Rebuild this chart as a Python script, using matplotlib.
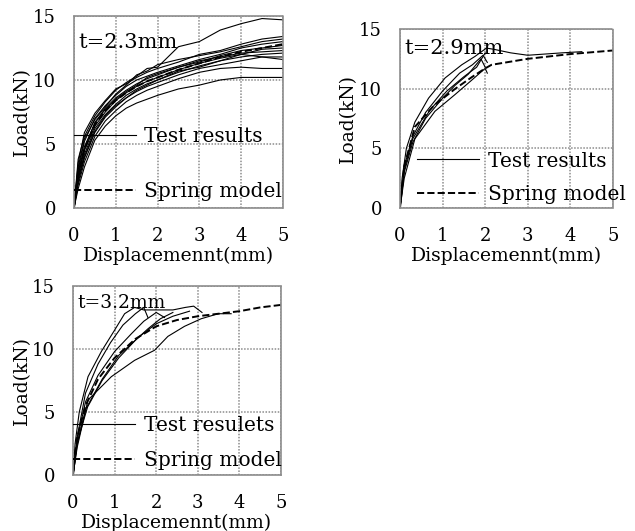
import matplotlib
matplotlib.use('Agg')
import matplotlib.pyplot as plt

plt.rcParams['font.family'] = ['DejaVu Serif']

# t = 2.3 mm: test curves share one displacement grid
x23 = [0, 0.1, 0.25, 0.5, 0.75, 1.0, 1.25, 1.5, 1.75, 2.0, 2.5, 3.0, 3.5, 4.0, 4.5, 5.0]
test23 = [
    [0, 3.8, 5.6, 7.2, 8.3, 9.2, 9.8, 10.3, 10.9, 11.0, 12.6, 13.0, 13.9, 14.4, 14.8, 14.7],
    [0, 3.5, 5.9, 7.4, 8.4, 9.3, 9.7, 10.2, 10.6, 10.9, 11.4, 12.0, 12.3, 12.8, 13.2, 13.4],
    [0, 3.0, 5.2, 7.0, 8.0, 8.8, 9.5, 10.0, 10.3, 10.6, 11.1, 11.6, 12.0, 12.5, 12.8, 13.0],
    [0, 2.8, 4.8, 6.6, 7.8, 8.6, 9.2, 9.7, 10.1, 10.4, 11.0, 11.4, 11.9, 12.3, 12.5, 12.7],
    [0, 2.5, 4.5, 6.4, 7.5, 8.4, 9.0, 9.5, 9.9, 10.2, 10.8, 11.3, 11.7, 12.0, 12.4, 12.5],
    [0, 2.2, 4.2, 6.2, 7.3, 8.1, 8.8, 9.3, 9.7, 10.0, 10.7, 11.0, 11.5, 11.8, 12.0, 12.1],
    [0, 2.0, 3.9, 5.9, 7.1, 7.9, 8.6, 9.1, 9.5, 9.8, 10.4, 10.9, 11.2, 11.5, 11.8, 11.6],
    [0, 1.8, 3.6, 5.6, 6.8, 7.6, 8.3, 8.8, 9.2, 9.5, 10.1, 10.6, 10.9, 11.0, 10.9, 10.9],
    [0, 1.5, 3.2, 5.3, 6.4, 7.2, 7.8, 8.2, 8.5, 8.8, 9.3, 9.6, 10.0, 10.2, 10.2, 10.2],
    [0, 3.2, 5.4, 6.9, 7.9, 8.9, 9.6, 10.4, 10.7, 11.2, 11.6, 11.9, 12.2, 12.6, 13.0, 13.2],
    [0, 2.6, 4.6, 6.7, 7.7, 8.5, 9.1, 9.6, 10.2, 10.5, 11.0, 11.5, 11.8, 12.1, 12.2, 12.3],
    [0, 2.3, 4.0, 6.0, 7.2, 8.0, 8.6, 9.2, 9.6, 10.0, 10.6, 11.1, 11.5, 12.0, 11.8, 11.8],
]
spring23 = [0, 2.6, 4.6, 6.5, 7.6, 8.4, 9.0, 9.5, 9.9, 10.2, 10.8, 11.3, 11.8, 12.2, 12.5, 12.8]

# t = 2.9 mm
test29_x = [
    [0, 0.05, 0.15, 0.35, 0.67, 1.06, 1.45, 1.76, 2.03, 2.2, 2.6, 3.0, 3.4, 3.8, 4.27],
    [0, 0.1, 0.3, 0.6, 1.0, 1.4, 1.7, 1.95, 2.05],
    [0, 0.1, 0.3, 0.6, 1.0, 1.3, 1.6, 1.9, 2.0],
    [0, 0.1, 0.35, 0.82, 1.29, 1.68, 2.0, 2.05],
    [0, 0.1, 0.3, 0.7, 1.1, 1.5, 1.8, 2.0],
]
test29_y = [
    [0, 2.5, 5.0, 7.2, 9.2, 10.9, 12.0, 12.7, 13.4, 13.3, 13.0, 12.8, 12.9, 13.0, 13.1],
    [0, 3.5, 6.0, 8.0, 9.8, 11.3, 12.0, 12.8, 12.2],
    [0, 3.0, 5.5, 7.5, 9.2, 10.3, 11.2, 12.5, 11.8],
    [0, 2.5, 5.8, 8.1, 9.5, 10.7, 11.7, 11.3],
    [0, 3.2, 5.8, 8.2, 9.8, 11.0, 11.8, 13.0],
]
spring29_x = [0, 0.1, 0.35, 0.8, 1.3, 1.7, 2.0, 2.15, 3.0, 4.0, 5.0]
spring29_y = [0, 3.5, 6.8, 8.6, 10.0, 11.0, 11.7, 12.0, 12.5, 12.9, 13.2]

# t = 3.2 mm
test32_x = [
    [0, 0.05, 0.15, 0.36, 0.68, 1.0, 1.24, 1.48, 1.7, 2.0, 2.4, 2.7, 2.9, 3.1],
    [0, 0.1, 0.3, 0.6, 0.9, 1.2, 1.5, 1.7, 1.8],
    [0, 0.1, 0.3, 0.6, 1.0, 1.4, 1.7, 2.0, 2.2],
    [0, 0.1, 0.35, 0.7, 1.1, 1.5, 1.8, 2.1, 2.4],
    [0, 0.1, 0.36, 0.92, 1.48, 1.96, 2.28, 2.68, 3.08, 3.49, 3.8],
    [0, 0.1, 0.3, 0.7, 1.1, 1.6, 2.0, 2.4, 2.8],
]
test32_y = [
    [0, 2.5, 5.0, 7.8, 9.8, 11.5, 12.8, 13.3, 13.1, 13.1, 13.1, 13.3, 13.4, 12.9],
    [0, 3.0, 6.5, 8.8, 10.5, 11.9, 12.8, 13.3, 12.5],
    [0, 2.8, 5.8, 7.9, 9.8, 11.2, 12.2, 12.9, 12.5],
    [0, 2.6, 5.4, 7.5, 9.3, 10.7, 11.6, 12.4, 12.9],
    [0, 2.2, 5.95, 7.8, 9.1, 9.9, 11.0, 11.8, 12.4, 12.8, 12.8],
    [0, 2.4, 5.2, 7.6, 9.5, 11.0, 12.0, 12.6, 13.0],
]
spring32_x = [0, 0.1, 0.3, 0.6, 1.0, 1.5, 2.0, 2.5, 3.0, 3.5, 4.0, 4.5, 5.0]
spring32_y = [0, 3.0, 5.5, 7.6, 9.3, 10.8, 11.8, 12.3, 12.6, 12.8, 13.0, 13.3, 13.5]

ticks_x = [0, 1, 2, 3, 4, 5]
ticks_y = [0, 5, 10, 15]

fig = plt.figure(figsize=(6.35, 5.31), dpi=100)
ax1 = fig.add_axes([0.1165, 0.6083, 0.3291, 0.3616])
ax2 = fig.add_axes([0.6299, 0.6083, 0.3354, 0.3371])
ax3 = fig.add_axes([0.115, 0.1055, 0.3276, 0.3559])

for x, y in [(x23, c) for c in test23]:
    ax1.plot(x, y, color='black', lw=0.8)
ax1.plot(x23, spring23, color='black', lw=1.4, ls='--')

for x, y in zip(test29_x, test29_y):
    ax2.plot(x, y, color='black', lw=0.8)
ax2.plot(spring29_x, spring29_y, color='black', lw=1.4, ls='--')

for x, y in zip(test32_x, test32_y):
    ax3.plot(x, y, color='black', lw=0.8)
ax3.plot(spring32_x, spring32_y, color='black', lw=1.4, ls='--')

setup = [
    (ax1, 't=2.3mm', 0.86, 15, 'Test results', (0.0, 0.23), 1.8),
    (ax2, 't=2.9mm', 0.89, 15, 'Test results', (0.08, 0.17), 0.7),
    (ax3, 't=3.2mm', 0.91, 13.5, 'Test resulets', (0.0, 0.17), 0.8),
]
for ax, title, ty, tsize, lab, anchor, spacing in setup:
    ax.set_xlim(0, 5)
    ax.set_ylim(0, 15)
    ax.set_xticks(ticks_x)
    ax.set_yticks(ticks_y)
    ax.tick_params(length=0, labelsize=13, pad=14)
    ax.tick_params(axis='y', pad=13)
    ax.grid(True, color='#8c8c8c', lw=1.1, ls=(0, (1, 1)))
    for s in ax.spines.values():
        s.set_color('#8c8c8c')
        s.set_linestyle((0, (1, 1)))
        s.set_linewidth(1.2)
    ax.set_xlabel('Displacemennt(mm)', fontsize=13.5, labelpad=1)
    ax.set_ylabel('Load(kN)', fontsize=13.5, labelpad=1)
    ax.text(0.02, ty, title, transform=ax.transAxes, fontsize=tsize, va='center')
    handles = [plt.Line2D([], [], color='black', lw=0.8),
               plt.Line2D([], [], color='black', lw=1.4, ls='--')]
    ax.legend(handles, [lab, 'Spring model'], loc='center left', bbox_to_anchor=anchor,
              frameon=False, fontsize=14.5, handlelength=3.1, handletextpad=0.4,
              labelspacing=spacing, borderpad=0, borderaxespad=0)

fig.savefig('out.png', dpi=100)
